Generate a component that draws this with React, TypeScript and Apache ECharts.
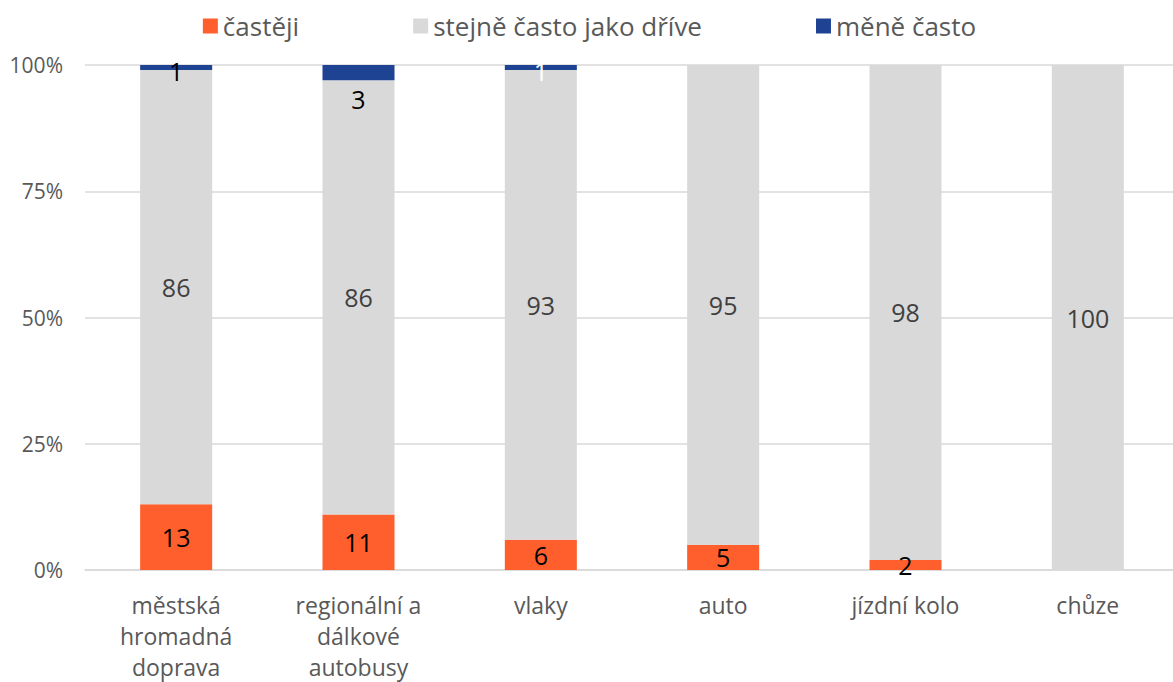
import React, { useEffect, useRef } from "react";
import * as echarts from "echarts";

const categories = [
  "městská\nhromadná\ndoprava",
  "regionální a\ndálkové\nautobusy",
  "vlaky",
  "auto",
  "jízdní kolo",
  "chůze",
];
const seriesNames = ["častěji", "stejně často jako dříve", "měně často"];
const castejiValues = [13, 11, 6, 5, 2, 0];
const stejneValues = [86, 86, 93, 95, 98, 100];
const meneValues = [1, 3, 1, 0, 0, 0];
const yTicks = [0, 25, 50, 75, 100];

const COLORS = ["#FF5F2D", "#D9D9D9", "#1F4393"];
const LABEL_COLORS = ["#000000", "#404040", "#000000"];
const FONT = "'Open Sans', 'Noto Sans', sans-serif";

export default function App() {
  const ref = useRef<HTMLDivElement>(null);
  useEffect(() => {
    if (!ref.current) return;
    document.body.style.overflow = "hidden";
    const chart = echarts.init(ref.current, null, { renderer: "svg" });
    const valuesList = [castejiValues, stejneValues, meneValues];
    const series = valuesList.map((vals, si) => ({
      name: seriesNames[si],
      type: "bar",
      stack: "total",
      barWidth: "39.5%",
      itemStyle: { color: COLORS[si] },
      label: {
        show: true,
        position: "inside",
        fontFamily: FONT,
        fontSize: 25,
        color: LABEL_COLORS[si],
        formatter: (p: any) => (p.value > 0 ? String(p.value) : ""),
      },
      data: vals.map((v, i) => {
        if (si === 2 && i === 2) return { value: v, label: { color: "#ffffff", offset: [0, 3] } };
        if (si === 2 && i === 1) return { value: v, label: { offset: [0, 26] } };
        if (si === 2 && i === 0) return { value: v, label: { offset: [0, 3] } };
        return v;
      }),
    }));
    chart.setOption({
      animation: false,
      textStyle: { fontFamily: FONT },
      legend: {
        top: 8,
        left: "center",
        itemWidth: 15,
        itemHeight: 15,
        itemGap: 114,
        icon: "rect",
        textStyle: { fontSize: 26, color: "#595959", fontFamily: FONT },
        data: seriesNames,
      },
      grid: { left: 85, right: 0, top: 65, bottom: 108, containLabel: false },
      xAxis: {
        type: "category",
        data: categories,
        axisLine: { lineStyle: { color: "#D9D9D9", width: 1.5 } },
        axisTick: { show: false },
        axisLabel: {
          margin: 19,
          fontSize: 23,
          lineHeight: 31,
          color: "#595959",
          fontFamily: FONT,
        },
      },
      yAxis: {
        type: "value",
        min: yTicks[0],
        max: yTicks[yTicks.length - 1],
        interval: 25,
        axisLine: { show: false },
        axisTick: { show: false },
        splitLine: { lineStyle: { color: "#D9D9D9", width: 1.5 } },
        axisLabel: {
          margin: 22,
          fontSize: 21,
          color: "#595959",
          fontFamily: FONT,
          formatter: "{value}%",
        },
      },
      series,
    });
    return () => chart.dispose();
  }, []);
  return (
    <div
      ref={ref}
      style={{ position: "fixed", left: 0, top: 0, width: 1179, height: 682, background: "#fff" }}
    />
  );
}
